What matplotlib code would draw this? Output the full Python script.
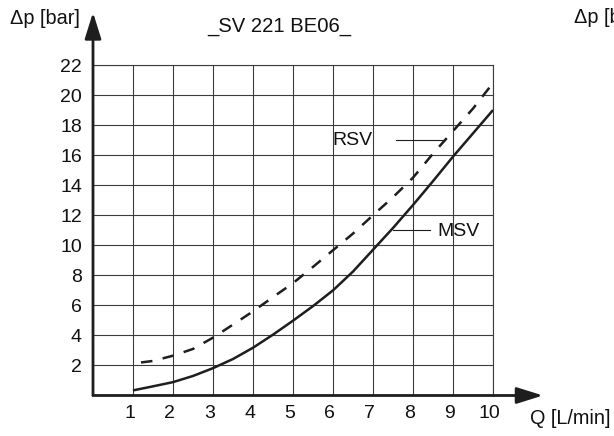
import matplotlib
matplotlib.use("Agg")
import matplotlib.pyplot as plt
from matplotlib.transforms import ScaledTranslation

plt.rcParams['font.family'] = ['Liberation Sans', 'DejaVu Sans']

# ---- data ----
msv_q = [1.0, 1.5, 2.0, 2.5, 3.0, 3.5, 4.0, 4.5, 5.0, 5.5, 6.0, 6.5, 7.0, 7.5, 8.0, 8.5, 9.0, 9.5, 10.0]
msv_dp = [0.34, 0.61, 0.89, 1.3, 1.82, 2.43, 3.18, 4.05, 4.98, 5.95, 7.0, 8.25, 9.7, 11.15, 12.68, 14.27, 15.9, 17.45, 19.0]
rsv_q = [1.2, 1.5, 2.0, 2.5, 3.0, 3.5, 4.0, 4.5, 5.0, 5.5, 6.0, 6.5, 7.0, 7.5, 8.0, 8.5, 9.0, 9.5, 10.0]
rsv_dp = [2.2, 2.3, 2.65, 3.1, 3.85, 4.72, 5.6, 6.55, 7.48, 8.56, 9.67, 10.78, 12.0, 13.2, 14.5, 16.1, 17.6, 19.1, 20.8]
x_ticks = [1, 2, 3, 4, 5, 6, 7, 8, 9, 10]
y_ticks = [2, 4, 6, 8, 10, 12, 14, 16, 18, 20, 22]
title = "_SV 221 BE06_"
y_label = "Δp [bar]"
x_label = "Q [L/min]"

W, H = 614, 436
DPI = 100
fig = plt.figure(figsize=(W / DPI, H / DPI), dpi=DPI)

def fx(px):
    return px / W

def fy(py):
    return 1 - py / H

x0, x1 = 93, 493
y_top, y_bot = 65, 395.5
ax = fig.add_axes([fx(x0), fy(y_bot), fx(x1) - fx(x0), fy(y_top) - fy(y_bot)])
ax.set_xlim(0, 10)
ax.set_ylim(0, 22)
ax.set_xticks(x_ticks)
ax.set_yticks(y_ticks)
ax.set_xticklabels([str(v) for v in x_ticks])
ax.set_yticklabels([str(v) for v in y_ticks])
grid_c = '#3c3c3c'
ax.grid(True, color=grid_c, lw=0.8)
ax.set_axisbelow(True)
for s in ['left', 'bottom']:
    ax.spines[s].set_visible(False)
for s in ['top', 'right']:
    ax.spines[s].set_color(grid_c)
    ax.spines[s].set_linewidth(0.8)
ax.tick_params(length=0, labelsize=14, colors='#111111')
ax.tick_params(axis='x', pad=7)
ax.tick_params(axis='y', pad=8)
off = ScaledTranslation(-3.5 / DPI, 0, fig.dpi_scale_trans)
for lbl in ax.get_xticklabels():
    lbl.set_transform(lbl.get_transform() + off)

line_c = '#1e1e1e'
ax.plot(msv_q, msv_dp, color=line_c, lw=1.8, solid_capstyle='butt', solid_joinstyle='round', zorder=3)
ax.plot(rsv_q, rsv_dp, color=line_c, lw=1.8, linestyle=(0, (4.6, 4.2)), zorder=3)

# axes with arrows
arrow_kw = dict(arrowstyle='-|>,head_length=16,head_width=5', mutation_scale=1,
                lw=2.0, color='#1e1e1e', shrinkA=0, shrinkB=0)
ax.annotate('', xy=(11.25, 0), xytext=(0, 0), xycoords='data', arrowprops=arrow_kw,
            annotation_clip=False, zorder=5)
ax.annotate('', xy=(0, 25.5), xytext=(0, 0), xycoords='data', arrowprops=arrow_kw,
            annotation_clip=False, zorder=5)

# curve labels with leader lines
ax.plot([7.57, 8.8], [17.0, 17.0], color=line_c, lw=0.8, zorder=3)
ax.text(5.98, 17.0, "RSV", fontsize=14, va='center', ha='left', color='#111111', zorder=4)
ax.plot([7.51, 8.43], [11.0, 11.0], color=line_c, lw=0.8, zorder=3)
ax.text(8.6, 10.95, "MSV", fontsize=14, va='center', ha='left', color='#111111', zorder=4)

# texts (the right-hand one is deliberately cut off at the edge, as in the reference)
fig.text(fx(10), fy(18.5), y_label, fontsize=14.3, ha='left', va='center', color='#111111')
fig.text(fx(574), fy(17.5), y_label, fontsize=14.3, ha='left', va='center', color='#111111')
fig.text(fx(279), fy(27), title, fontsize=14.6, ha='center', va='center', color='#111111')
fig.text(fx(530), fy(418), x_label, fontsize=14.3, ha='left', va='center', color='#111111')

fig.savefig("out.png", dpi=DPI)
